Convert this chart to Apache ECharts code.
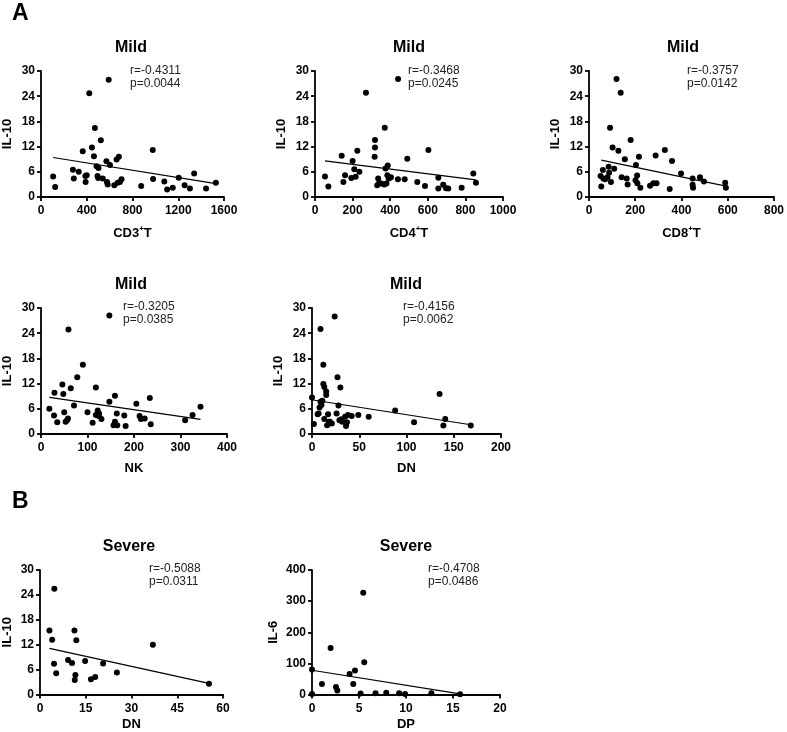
<!DOCTYPE html>
<html>
<head>
<meta charset="utf-8">
<script src="https://cdn.jsdelivr.net/npm/echarts@6/dist/echarts.min.js"></script>
<style>html,body{margin:0;padding:0;background:#fff}#c{width:787px;height:732px}</style>
</head>
<body>
<div id="c"></div>
<script>
// ---------- DATA ----------
const mildCD3 = [[106,4.9],[124,2.4],[279,6.5],[287,4.4],[330,6.0],[365,10.9],[388,5.0],[400,5.2],[390,3.6],[422,24.7],[445,11.8],[463,9.7],[471,16.4],[486,7.3],[494,5.0],[500,4.5],[503,6.9],[523,13.5],[540,4.4],[572,8.5],[577,3.6],[583,3.0],[592,27.9],[603,7.6],[641,2.8],[661,8.9],[670,3.4],[681,9.6],[690,3.6],[704,4.2],[876,2.6],[977,11.2],[980,4.3],[1078,3.7],[1103,1.8],[1152,2.2],[1204,4.6],[1256,2.8],[1302,2.0],[1339,5.6],[1443,2.0],[1529,3.4]];
const mildCD3Fit = [[106,9.4],[1529,3.2]];

const mildCD4 = [[53,4.9],[71,2.5],[142,9.8],[151,3.6],[160,5.2],[193,4.5],[200,8.6],[209,6.6],[216,4.8],[225,11.0],[236,6.0],[271,24.8],[317,9.6],[319,11.8],[319,13.6],[331,2.8],[336,4.4],[341,3.3],[352,3.2],[368,3.0],[371,16.5],[375,6.8],[380,3.2],[385,5.2],[387,7.5],[392,4.4],[404,4.7],[441,4.2],[442,28.1],[477,4.2],[491,9.1],[544,3.6],[585,2.6],[603,11.2],[656,4.6],[656,2.0],[682,2.9],[697,2.1],[709,2.0],[780,2.2],[842,5.6],[856,3.4]];
const mildCD4Fit = [[53,8.6],[856,4.1]];

const mildCD8 = [[50,5.0],[53,2.5],[60,6.4],[62,4.4],[70,4.2],[80,4.7],[85,7.2],[87,5.8],[91,16.5],[95,3.6],[102,11.8],[109,6.7],[119,28.1],[127,11.0],[137,24.8],[141,4.7],[155,9.0],[163,4.4],[167,3.0],[180,13.6],[201,4.0],[203,7.6],[208,5.1],[209,3.3],[216,9.6],[222,2.2],[264,2.7],[278,3.3],[288,9.9],[292,3.3],[328,11.2],[349,1.9],[359,8.6],[398,5.6],[448,4.4],[448,2.9],[450,2.2],[480,4.7],[497,3.7],[589,3.4],[592,2.2]];
const mildCD8Fit = [[53,8.8],[592,2.6]];

const mildNK = [[18,6.0],[28,4.4],[29,9.8],[35,2.8],[46,11.8],[48,9.5],[50,5.2],[53,2.9],[56,3.3],[58,3.7],[59,24.9],[64,10.9],[71,6.8],[78,13.5],[90,16.5],[100,5.2],[111,2.7],[118,11.1],[118,4.5],[122,5.6],[124,4.3],[125,4.8],[130,3.6],[147,7.7],[147,28.2],[156,2.1],[159,9.1],[159,2.9],[163,4.9],[164,2.1],[179,4.4],[182,1.9],[205,7.2],[212,4.3],[215,3.6],[223,3.7],[234,8.6],[236,2.3],[310,3.3],[326,4.5],[343,6.5]];
const mildNKFit = [[18,8.7],[343,3.5]];

const mildDN = [[0,8.7],[2,2.4],[6,4.7],[7,4.9],[8,6.3],[9,25.0],[9,7.7],[10,6.9],[11,7.9],[12,16.5],[12,11.9],[13,11.2],[15,10.1],[15,9.3],[13,3.6],[16,2.1],[17,4.7],[18,2.9],[19,2.9],[21,2.5],[24,28.0],[26,4.9],[27,13.5],[28,6.8],[29,3.3],[30,11.1],[31,3.5],[32,2.9],[35,4.1],[36,1.9],[37,2.8],[38,4.5],[42,4.3],[49,4.5],[60,4.1],[88,5.6],[108,2.8],[135,9.5],[139,2.0],[141,3.6],[168,2.0]];
const mildDNFit = [[1,8.1],[168,2.2]];

const severeDN = [[3.1,15.4],[4.0,13.2],[4.6,7.4],[4.7,25.5],[5.3,5.1],[9.2,8.3],[10.5,7.6],[11.3,15.4],[11.4,3.5],[11.6,4.7],[11.9,13.1],[14.8,8.1],[16.7,3.7],[18.1,4.2],[20.7,7.5],[25.2,5.3],[37.0,12.0],[55.4,2.6]];
const severeDNFit = [[3.1,11.1],[55.4,2.7]];

const severeDP = [[0,80],[0,2],[1.06,34],[1.98,149],[2.55,24],[2.69,13],[4.0,66],[4.39,34],[4.57,77],[5.17,3],[5.45,327],[5.56,104],[6.76,4],[7.9,6],[9.27,4],[9.9,2],[12.7,4],[15.75,1]];
const severeDPFit = [[0,78],[15.75,2]];

const panelTitles = ['Mild','Mild','Mild','Mild','Mild','Severe','Severe'];
const statR = ['r=-0.4311','r=-0.3468','r=-0.3757','r=-0.3205','r=-0.4156','r=-0.5088','r=-0.4708'];
const statP = ['p=0.0044','p=0.0245','p=0.0142','p=0.0385','p=0.0062','p=0.0311','p=0.0486'];
const xNames = ['{b|CD3}{s|+}{b|T}','{b|CD4}{s|+}{b|T}','{b|CD8}{s|+}{b|T}','{b|NK}','{b|DN}','{b|DN}','{b|DP}'];
const yNames = ['IL-10','IL-10','IL-10','IL-10','IL-10','IL-10','IL-6'];
// axis ranges: [min, max, interval]
const xRanges = [[0,1600,400],[0,1000,200],[0,800,200],[0,400,100],[0,200,50],[0,60,15],[0,20,5]];
const yRanges = [[0,30,6],[0,30,6],[0,30,6],[0,30,6],[0,30,6],[0,30,6],[0,400,100]];
const pointSets = [mildCD3, mildCD4, mildCD8, mildNK, mildDN, severeDN, severeDP];
const fitSets = [mildCD3Fit, mildCD4Fit, mildCD8Fit, mildNKFit, mildDNFit, severeDNFit, severeDPFit];

// ---------- LAYOUT ----------
const FONT = '"Liberation Sans", Arial, Helvetica, sans-serif';
const grids = [
  {left:38, top:71, width:186, height:126},
  {left:315, top:71, width:188, height:126},
  {left:589, top:71, width:189, height:126},
  {left:38, top:308, width:189, height:126},
  {left:312, top:308, width:189, height:126},
  {left:34, top:570, width:189, height:126},
  {left:312, top:570, width:188, height:126}
];
const titlePos = [[131,48],[409,48],[683,48],[131,285],[406,285],[129,547],[406,547]];
const statPos = [[130,71],[408,71],[687,71],[123,307],[403,307],[149,569],[428,569]];
const xNameGap = [28,28,28,26,26,22,22];
const yNameGap = [27,27,27,27,27,26,32];

const axisLineStyle = {color:'#000', width:1.8};
const plain = v => String(v);
const option = {
  animation:false,
  backgroundColor:'#fff',
  grid: grids.map(g => Object.assign({containLabel:false}, g)),
  xAxis: grids.map((g,i) => ({
    type:'value', gridIndex:i, min:xRanges[i][0], max:xRanges[i][1], interval:xRanges[i][2],
    name:xNames[i], nameLocation:'middle', nameGap:xNameGap[i],
    nameTextStyle:{rich:{
      b:{fontFamily:FONT, fontSize:13, fontWeight:'bold', color:'#000', lineHeight:16},
      s:{fontFamily:FONT, fontSize:8, fontWeight:'bold', color:'#000', verticalAlign:'top', lineHeight:8}
    }},
    axisLine:{show:true, onZero:false, lineStyle:axisLineStyle},
    axisTick:{show:true, inside:false, length:4, lineStyle:axisLineStyle},
    axisLabel:{fontFamily:FONT, fontSize:12, fontWeight:'bold', color:'#000', margin:8, formatter:plain},
    splitLine:{show:false}
  })),
  yAxis: grids.map((g,i) => ({
    type:'value', gridIndex:i, min:yRanges[i][0], max:yRanges[i][1], interval:yRanges[i][2],
    name:yNames[i], nameLocation:'middle', nameGap:yNameGap[i],
    nameTextStyle:{fontFamily:FONT, fontSize:13, fontWeight:'bold', color:'#000'},
    axisLine:{show:true, onZero:false, lineStyle:axisLineStyle},
    axisTick:{show:true, inside:false, length:4, lineStyle:axisLineStyle},
    axisLabel:{fontFamily:FONT, fontSize:12, fontWeight:'bold', color:'#000', margin:6, formatter:plain},
    splitLine:{show:false}
  })),
  series: [],
  graphic: []
};
pointSets.forEach((pts,i) => {
  option.series.push({type:'line', xAxisIndex:i, yAxisIndex:i, data:fitSets[i], showSymbol:false, symbol:'none',
    lineStyle:{color:'#000', width:1.2}, silent:true, z:2});
  option.series.push({type:'scatter', xAxisIndex:i, yAxisIndex:i, data:pts, symbol:'circle', symbolSize:6,
    itemStyle:{color:'#000', opacity:1}, silent:true, z:3});
  option.graphic.push({type:'text', style:{text:panelTitles[i], x:titlePos[i][0], y:titlePos[i][1],
    textAlign:'center', textVerticalAlign:'middle', font:'bold 16px ' + FONT, fill:'#000'}});
  option.graphic.push({type:'text', style:{text:statR[i], x:statPos[i][0], y:statPos[i][1],
    textAlign:'left', textVerticalAlign:'middle', font:'12px ' + FONT, fill:'#222'}});
  option.graphic.push({type:'text', style:{text:statP[i], x:statPos[i][0], y:statPos[i][1] + 13,
    textAlign:'left', textVerticalAlign:'middle', font:'12px ' + FONT, fill:'#222'}});
});
option.graphic.push({type:'text', style:{text:'A', x:12, y:14, textAlign:'left', textVerticalAlign:'middle', font:'bold 23px ' + FONT, fill:'#000'}});
option.graphic.push({type:'text', style:{text:'B', x:12, y:502, textAlign:'left', textVerticalAlign:'middle', font:'bold 23px ' + FONT, fill:'#000'}});

const chart = echarts.init(document.getElementById('c'), null, {renderer:'canvas'});
chart.setOption(option);
</script>
</body>
</html>
